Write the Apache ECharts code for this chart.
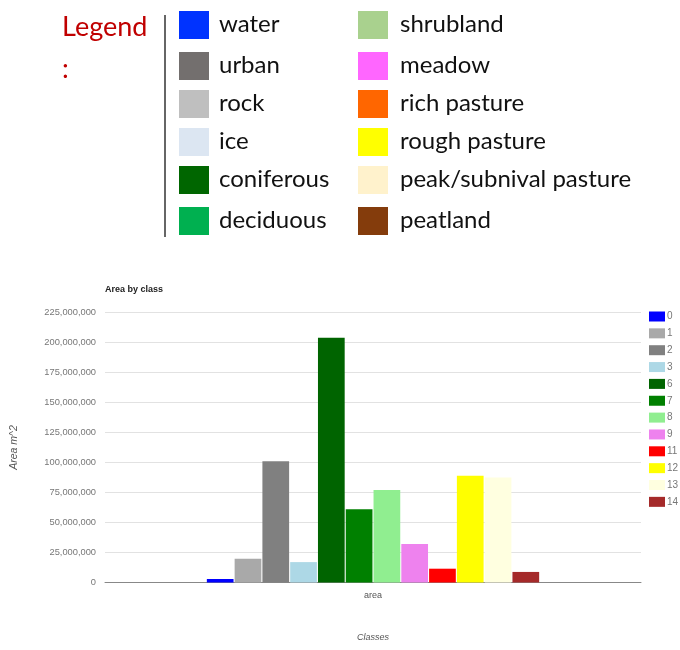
<!DOCTYPE html>
<html><head><meta charset="utf-8">
<script src="https://cdn.jsdelivr.net/npm/echarts@6/dist/echarts.min.js"></script>
<style>html,body{margin:0;padding:0;background:#fff;}#c{width:680px;height:650px;}</style>
</head><body><div id="c"></div>
<script>
// Top key (image legend)
const keyLeftNames = ['water','urban','rock','ice','coniferous','deciduous'];
const keyLeftColors = ['#0033ff','#736f6e','#bfbfbf','#dce6f2','#006600','#00b050'];
const keyRightNames = ['shrubland','meadow','rich pasture','rough pasture','peak/subnival pasture','peatland'];
const keyRightColors = ['#a9d18e','#ff66ff','#ff6600','#ffff00','#fff2cc','#843c0c'];

// Bar chart data
const categories = ['area'];
const classNames = ['0','1','2','3','6','7','8','9','11','12','13','14'];
const classValues = [2900000, 19800000, 101000000, 17000000, 204000000, 61000000, 77000000, 32000000, 11500000, 89000000, 87500000, 8800000];
const classColors = ['#0000ff','#a9a9a9','#808080','#add8e6','#006400','#008000','#90ee90','#ee82ee','#ff0000','#ffff00','#ffffe0','#a52a2a'];
const yTicks = {min: 0, max: 225000000, interval: 25000000};

const chart = echarts.init(document.getElementById('c'), null, {renderer: 'canvas'});

const rowY = [25, 66, 104, 142, 180, 221];
const graphics = [];
graphics.push({type:'text', left: 62, top: 14, style:{text:'Legend', fill:'#c00000', font:'27px Lato'}});
graphics.push({type:'text', left: 62, top: 56, style:{text:':', fill:'#c00000', font:'27px Lato'}});
graphics.push({type:'line', shape:{x1:165, y1:15, x2:165, y2:237}, style:{stroke:'#333', lineWidth:1.5}});
function addCol(names, colors, bx, tx) {
  names.forEach((n, i) => {
    graphics.push({type:'rect', shape:{x:bx, y:rowY[i]-14, width:30, height:28}, style:{fill:colors[i]}});
    graphics.push({type:'text', x: tx, y: rowY[i] - 1, style:{text:n, fill:'#111', font:'24px Lato', textVerticalAlign:'middle', verticalAlign:'middle'}});
  });
}
addCol(keyLeftNames, keyLeftColors, 179, 219);
addCol(keyRightNames, keyRightColors, 358, 400);

const labelFont = 'Liberation Sans';
chart.setOption({
  animation: false,
  title: {text: 'Area by class', left: 100, top: 280, textStyle:{fontSize: 9, fontWeight:'bold', color:'#222', fontFamily: labelFont}},
  graphic: graphics,
  legend: {
    orient: 'vertical', left: 649, top: 311.5, padding: 0,
    itemWidth: 16, itemHeight: 10, itemGap: 6.85,
    icon: 'rect',
    textStyle: {fontSize: 10, color:'#777', fontFamily: labelFont, lineHeight: 10, padding:[0,0,0,-3]},
    data: classNames
  },
  grid: {left: 105, right: 39, top: 312.5, bottom: 67.5, containLabel: false},
  xAxis: {
    type: 'category', data: categories,
    name: 'Classes', nameLocation: 'middle', nameGap: 50,
    nameTextStyle: {fontStyle: 'italic', fontSize: 9, color:'#555', fontFamily: labelFont},
    axisTick: {show: false},
    axisLine: {lineStyle: {color: '#888', width: 1}},
    axisLabel: {fontSize: 9, color:'#555', margin: 9, fontFamily: labelFont}
  },
  yAxis: {
    type: 'value', min: yTicks.min, max: yTicks.max, interval: yTicks.interval,
    name: 'Area m^2', nameLocation: 'middle', nameGap: 85, nameRotate: 90,
    nameTextStyle: {fontStyle: 'italic', fontSize: 10.5, color:'#555', fontFamily: labelFont},
    axisLine: {show: false}, axisTick: {show: false},
    splitLine: {lineStyle: {color: '#e2e2e2'}},
    axisLabel: {fontSize: 9.3, color:'#777', margin: 9, fontFamily: labelFont,
      formatter: v => v.toLocaleString('en-US')}
  },
  series: classNames.map((n, i) => ({
    type: 'bar', name: n, data: [classValues[i]],
    itemStyle: {color: classColors[i]},
    barGap: '4%', barCategoryGap: '38%'
  }))
});
</script></body></html>
